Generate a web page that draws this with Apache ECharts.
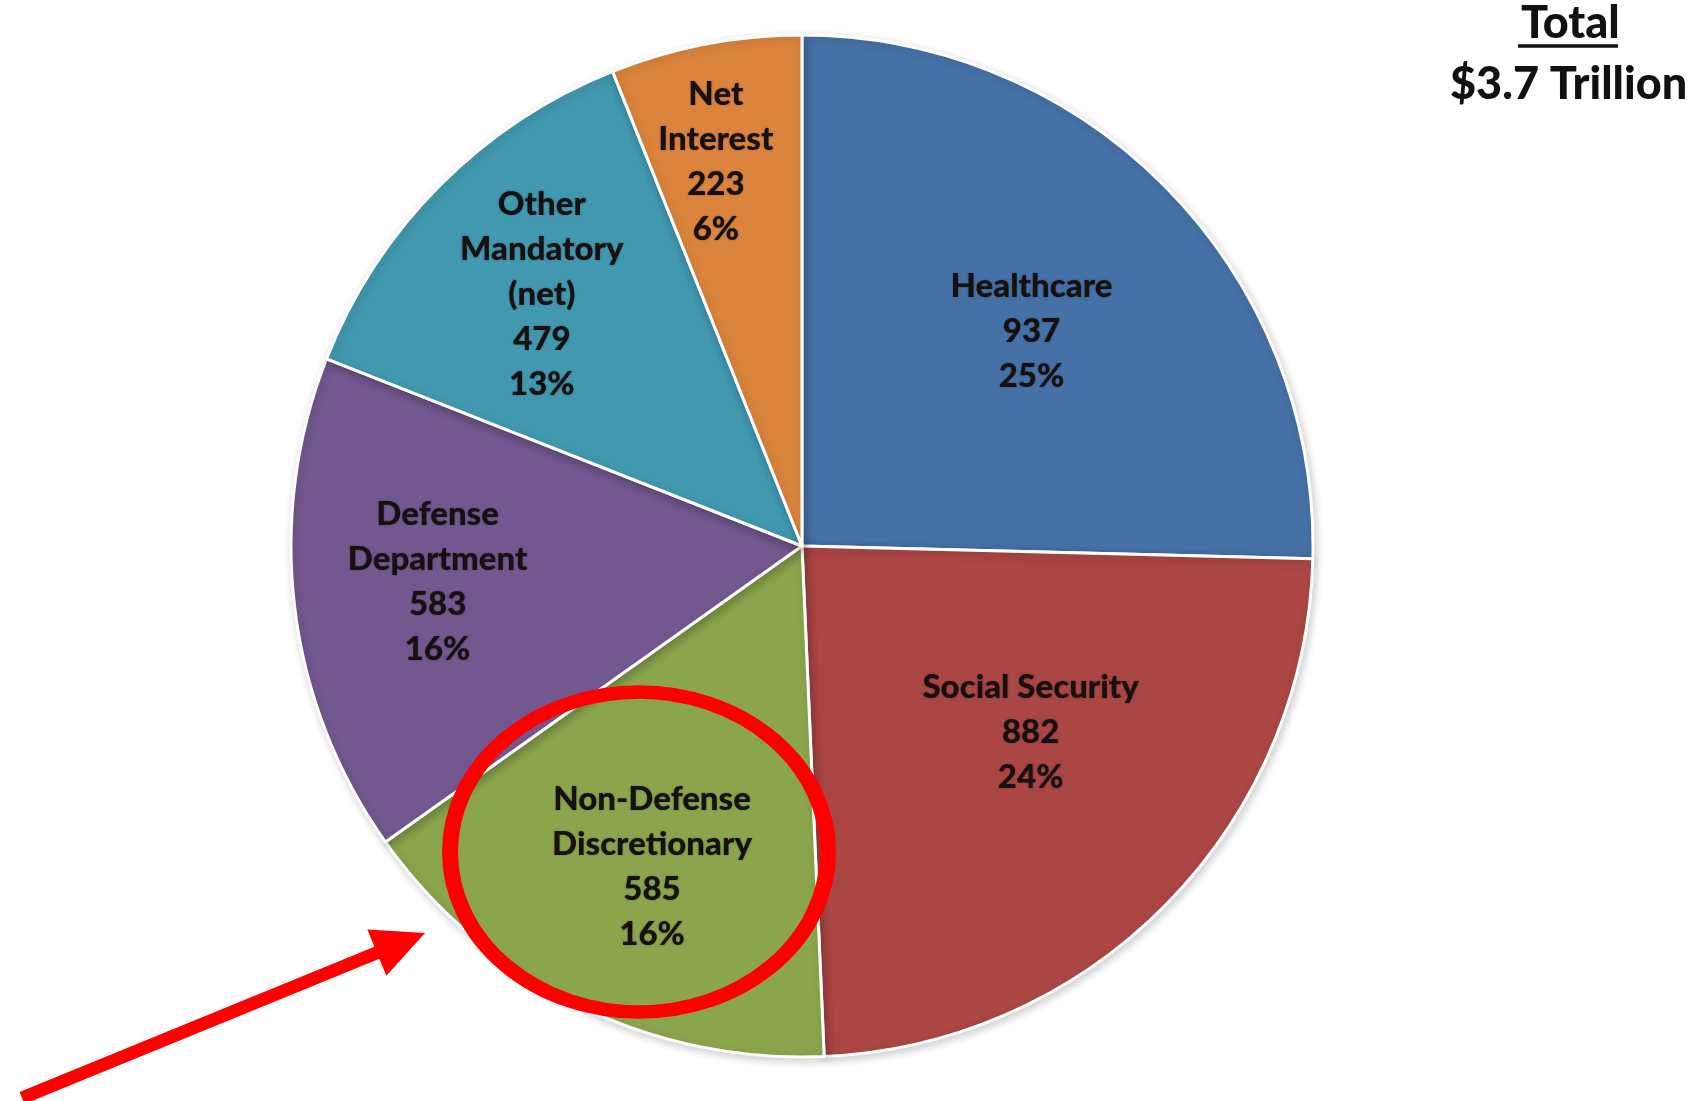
<!DOCTYPE html>
<html>
<head>
<meta charset="utf-8">
<script src="https://cdn.jsdelivr.net/npm/echarts@6/dist/echarts.min.js"></script>
<style>
html,body{margin:0;padding:0;background:#fff;}
#main{width:1696px;height:1101px;}
</style>
</head>
<body>
<div id="main"></div>
<script>
// ---- data ----
const categories = ['Healthcare', 'Social Security', 'Non-Defense\nDiscretionary', 'Defense\nDepartment', 'Other\nMandatory\n(net)', 'Net\nInterest'];
const values = [937, 882, 585, 583, 479, 223];
const sliceColors = ['#4571A6', '#AA4644', '#8AA54C', '#72588E', '#4198AF', '#DB843D'];
const titleLines = ['Total', '$3.7 Trillion'];

// ---- style / layout ----
const CX = 802, CY = 546, R = 511;
const labelRadiusRatio = [0.62, 0.59, 0.70, 0.71, 0.71, 0.77];
const labelNudge = [[0, 9], [11, -27], [9, -4], [0, -9], [0, 7], [-11, 7]];
const FONT = 'Lato, "Open Sans", sans-serif';

const chart = echarts.init(document.getElementById('main'), null, {renderer: 'canvas'});

const pieData = categories.map((n, i) => ({
  name: n,
  value: values[i],
  itemStyle: {color: sliceColors[i]}
}));

// arrow geometry (annotation)
const tail = [22, 1098], tip = [425, 933];
const ux = (tip[0] - tail[0]), uy = (tip[1] - tail[1]);
const ul = Math.sqrt(ux * ux + uy * uy);
const dxu = ux / ul, dyu = uy / ul;
const headLen = 52, headHalf = 25;
const base = [tip[0] - headLen * dxu, tip[1] - headLen * dyu];
const px = -dyu, py = dxu;

chart.setOption({
  animation: false,
  backgroundColor: '#ffffff',
  series: [{
    type: 'pie',
    center: [CX, CY],
    radius: [0, R],
    startAngle: 90,
    clockwise: true,
    percentPrecision: 0,
    silent: true,
    data: pieData,
    itemStyle: {
      borderColor: '#ffffff',
      borderWidth: 3,
      shadowBlur: 8,
      shadowColor: 'rgba(0,0,0,0.18)',
      shadowOffsetX: 2,
      shadowOffsetY: 3
    },
    label: {
      show: true,
      position: 'inside',
      formatter: '{b}\n{c}\n{d}%',
      fontFamily: FONT,
      fontWeight: 900,
      fontSize: 33,
      lineHeight: 45,
      color: '#161010',
      textShadowColor: 'rgba(0,0,0,0.35)',
      textShadowBlur: 2,
      align: 'center'
    },
    labelLine: {show: false},
    labelLayout: function (params) {
      const r = params.labelRect;
      const lx = r.x + r.width / 2, ly = r.y + r.height / 2;
      const i = params.dataIndex;
      const k = labelRadiusRatio[i];
      return {
        dx: (2 * k - 1) * (lx - CX) + labelNudge[i][0],
        dy: (2 * k - 1) * (ly - CY) + labelNudge[i][1]
      };
    }
  }],
  graphic: [
    {
      type: 'text', z: 100,
      left: 1521, top: 1,
      style: {text: titleLines[0], font: '900 45px ' + FONT, fill: '#111'}
    },
    {
      type: 'line', z: 100,
      shape: {x1: 1518, y1: 46, x2: 1618, y2: 46},
      style: {stroke: '#111', lineWidth: 3.5}
    },
    {
      type: 'text', z: 100,
      left: 1450, top: 62,
      style: {text: titleLines[1], font: '900 45px ' + FONT, fill: '#111'}
    },
    {
      type: 'circle', z: 100,
      x: 639, y: 852,
      scaleX: 1, scaleY: 160 / 189,
      shape: {cx: 0, cy: 0, r: 189},
      style: {fill: 'none', stroke: '#FF0000', lineWidth: 16, strokeNoScale: true}
    },
    {
      type: 'line', z: 100,
      shape: {x1: tail[0], y1: tail[1], x2: base[0] + 4 * dxu, y2: base[1] + 4 * dyu},
      style: {stroke: '#FF0000', lineWidth: 13}
    },
    {
      type: 'polygon', z: 100,
      shape: {points: [tip, [base[0] + headHalf * px, base[1] + headHalf * py], [base[0] - headHalf * px, base[1] - headHalf * py]]},
      style: {fill: '#FF0000'}
    }
  ]
});
</script>
</body>
</html>
